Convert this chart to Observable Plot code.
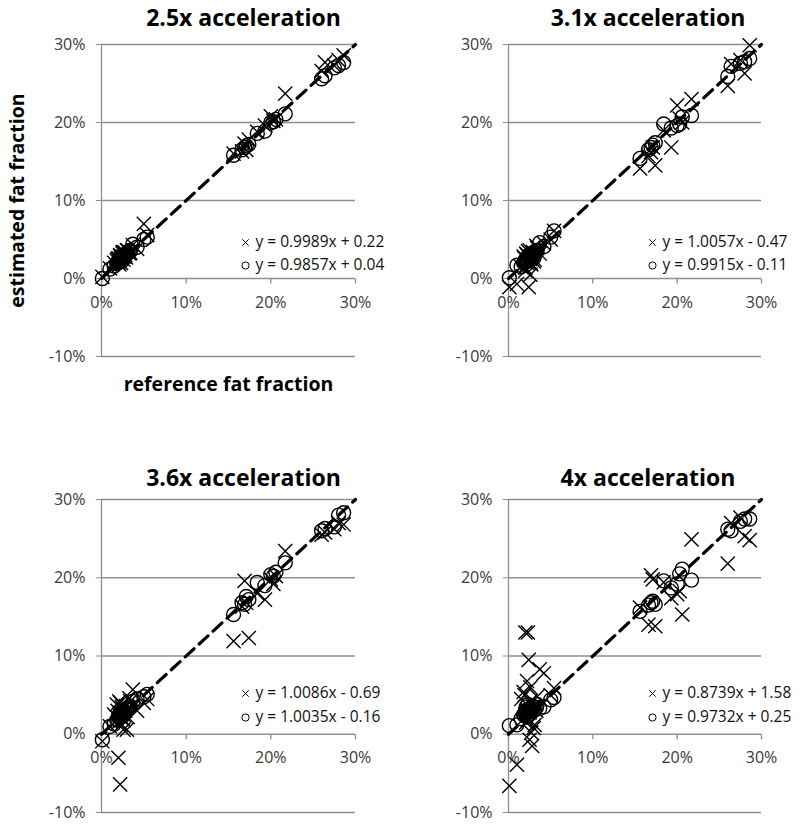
<!DOCTYPE html>
<html><head><meta charset="utf-8">
<script src="https://cdn.jsdelivr.net/npm/d3@7"></script>
<script src="https://cdn.jsdelivr.net/npm/@observablehq/plot@0.6"></script>
<style>
body{margin:0;background:#fff;}
#chart{position:relative;width:800px;height:826px;font-family:"Open Sans",sans-serif;}
#chart svg{position:absolute;overflow:visible;}
</style></head><body><div id="chart"></div>
<script>
// reference fat fraction (%) of each subject, shared by all panels
const refFat = [0.1,1.0,1.5,1.8,2.0,2.1,2.2,2.3,2.4,2.5,2.6,2.8,3.0,3.3,3.7,4.2,5.0,5.4,
  15.6,16.6,16.9,17.1,17.4,18.4,19.3,20.0,20.3,20.6,21.7,26.0,26.4,27.5,28.0,28.6,
  1.9,2.0,2.2,2.3,2.5,2.6,2.7,2.9,3.1,3.4];

const titles = ["2.5x acceleration","3.1x acceleration","3.6x acceleration","4x acceleration"];

// estimated fat fraction, method "×"
const cross25 = [0.2,1.3,2.0,2.3,2.6,1.8,3.0,2.0,2.8,3.4,2.4,3.0,3.6,3.2,4.3,3.8,7.0,5.6,
  16.0,16.3,17.3,16.5,17.8,18.8,19.6,20.8,20.2,20.4,23.7,26.6,27.7,27.3,28.0,28.6,
  2.5,2.1,2.9,2.6,3.2,2.8,3.4,2.7,3.6,3.3];
const cross31 = [-1.1,-0.7,1.5,2.8,1.0,3.2,2.0,3.5,-1.1,2.5,0.5,3.0,2.2,4.2,3.2,4.5,5.0,6.1,
  14.1,15.7,16.2,16.8,14.5,19.0,16.8,22.2,20.5,20.0,23.0,24.7,27.5,28.0,26.3,29.9,
  2.6,1.4,3.0,2.2,3.6,2.0,1.8,3.4,2.4,3.9];
const cross36 = [-0.9,1.0,2.5,3.8,-3.0,4.2,-6.4,1.2,3.5,2.0,0.6,3.0,0.6,4.6,5.7,3.0,4.0,4.5,
  11.9,16.3,19.6,16.8,12.3,18.0,17.2,19.8,19.2,20.2,23.4,25.5,25.8,26.2,27.0,26.8,
  3.0,1.5,4.0,2.6,3.3,1.8,2.4,3.6,2.2,4.2];
const cross40 = [-6.6,-3.9,4.5,5.4,13.0,1.5,6.8,13.0,9.5,-0.7,4.2,-1.5,0.8,3.0,8.3,7.8,5.0,5.9,
  16.2,14.0,20.3,19.8,13.8,19.4,17.4,17.9,18.3,15.3,24.9,21.8,27.0,27.7,25.3,24.8,
  5.0,2.2,3.0,1.8,2.8,6.0,0.2,3.5,1.2,4.8];

// estimated fat fraction, method "○"
const circle25 = [0.0,1.2,1.6,1.9,2.1,2.4,2.2,2.6,2.5,2.3,2.9,3.0,3.3,3.6,4.4,4.0,5.0,5.3,
  15.8,16.5,16.8,17.0,17.2,18.6,18.9,20.0,20.1,20.4,21.1,25.6,26.0,27.0,27.3,27.7,
  2.0,2.3,2.4,2.7,2.6,2.9,2.8,3.1,3.2,3.5];
const circle31 = [0.1,1.7,1.5,2.0,2.3,1.8,2.6,2.2,3.0,2.5,2.8,3.2,2.6,3.6,4.6,4.1,5.3,6.1,
  15.4,16.5,16.8,17.1,17.4,19.8,19.3,19.6,19.8,20.7,20.9,25.9,27.2,27.6,27.8,28.2,
  2.1,2.4,2.2,2.9,2.7,3.1,2.5,3.3,3.0,3.6];
const circle36 = [-0.7,1.0,1.3,1.8,2.2,2.5,2.1,2.6,2.8,2.3,3.0,2.7,3.2,3.5,4.2,4.5,4.8,5.1,
  15.3,16.8,16.6,17.6,17.2,19.4,19.0,20.4,20.2,20.7,21.9,26.0,26.3,26.5,28.0,28.3,
  1.9,2.3,2.6,2.4,2.8,3.0,2.7,3.2,3.4,3.6];
const circle40 = [1.1,1.2,2.0,2.5,3.0,3.5,2.2,3.8,2.8,3.3,2.6,3.2,3.5,3.4,3.3,3.5,4.4,4.7,
  15.7,16.5,16.8,17.0,16.6,19.6,18.7,19.2,20.5,21.1,19.7,26.2,26.0,27.2,27.5,27.5,
  2.4,2.7,3.0,2.5,3.2,2.9,3.4,3.6,3.1,3.8];

const crossFits = ["y = 0.9989x + 0.22","y = 1.0057x - 0.47","y = 1.0086x - 0.69","y = 0.8739x + 1.58"];
const circleFits = ["y = 0.9857x + 0.04","y = 0.9915x - 0.11","y = 1.0035x - 0.16","y = 0.9732x + 0.25"];

const yTicks = [-10,0,10,20,30];
const xTicks = [0,10,20,30];
const identity = [0,30];

const crossSeries = [cross25, cross31, cross36, cross40];
const circleSeries = [circle25, circle31, circle36, circle40];

const GRID = "#8f8f8f";
const tickDown = {draw(ctx){ ctx.moveTo(0,0); ctx.lineTo(0,5); }};

const layout = [
  {left:0,   top:0,   ml:101, mr:45, mt:44, mb:57, titleDy:-26, titleDx:15, legDy:[198,221], labels:true},
  {left:400, top:0,   ml:108, mr:39, mt:44, mb:57, titleDy:-26, titleDx:13, legDy:[198,221], labels:false},
  {left:0,   top:413, ml:101, mr:45, mt:86, mb:14, titleDy:-21, titleDx:15, legDy:[194,218], labels:false},
  {left:400, top:413, ml:108, mr:39, mt:86, mb:14, titleDy:-21, titleDx:13, legDy:[194,218], labels:false}
];

const root = document.getElementById("chart");

layout.forEach((L, k) => {
  const crosses = refFat.map((r, i) => ({ref: r, est: crossSeries[k][i]}));
  const circles = refFat.map((r, i) => ({ref: r, est: circleSeries[k][i]}));
  const marks = [
    Plot.ruleY(yTicks, {stroke: GRID, strokeWidth: 1.3}),
    Plot.ruleX([0], {y1: -10, y2: 30, stroke: GRID, strokeWidth: 1.3}),
    Plot.axisY({ticks: yTicks, tickFormat: d => d + "%", tickSize: 5, tickPadding: 11, label: null,
      stroke: GRID, fill: "#3a3a3a", fontSize: 16}),
    Plot.dot(xTicks, {x: d => d, y: d => 0, symbol: tickDown, stroke: GRID, strokeWidth: 1.3}),
    Plot.text(xTicks, {x: d => d, y: d => 0, text: d => d + "%", dy: 24, fill: "#3a3a3a", fontSize: 16}),
    Plot.line(identity, {x: d => d, y: d => d, stroke: "#000", strokeWidth: 3.2, strokeDasharray: "12,7"}),
    Plot.dot(crosses, {x: "ref", y: "est", symbol: "times", r: 6.5, stroke: "#000", strokeWidth: 1.4}),
    Plot.dot(circles, {x: "ref", y: "est", symbol: "circle", r: 7, stroke: "#000", fill: "none", strokeWidth: 1.4}),
    Plot.text([titles[k]], {frameAnchor: "top", dx: L.titleDx, dy: L.titleDy, lineAnchor: "middle",
      fontSize: 23, fontWeight: "bold", fill: "#000"}),
    Plot.dot([0], {frameAnchor: "top-left", dx: 144, dy: L.legDy[0], symbol: "times", r: 3, stroke: "#000", strokeWidth: 1}),
    Plot.dot([0], {frameAnchor: "top-left", dx: 144, dy: L.legDy[1], symbol: "circle", r: 3.6, stroke: "#000", fill: "none", strokeWidth: 1}),
    Plot.text([crossFits[k]], {frameAnchor: "top-left", dx: 154, dy: L.legDy[0], textAnchor: "start", lineAnchor: "middle", fontSize: 15.5, fill: "#111"}),
    Plot.text([circleFits[k]], {frameAnchor: "top-left", dx: 154, dy: L.legDy[1], textAnchor: "start", lineAnchor: "middle", fontSize: 15.5, fill: "#111"})
  ];
  if (L.labels) {
    marks.push(Plot.text(["estimated fat fraction"], {frameAnchor: "left", dx: -84, rotate: -90,
      textAnchor: "middle", lineAnchor: "middle", fontSize: 19.5, fontWeight: "bold", fill: "#000"}));
    marks.push(Plot.text(["reference fat fraction"], {frameAnchor: "bottom", dy: 28, lineAnchor: "middle",
      textAnchor: "middle", fontSize: 19.5, fontWeight: "bold", fill: "#000"}));
  }
  const svg = Plot.plot({
    width: 400, height: 413,
    marginLeft: L.ml, marginRight: L.mr, marginTop: L.mt, marginBottom: L.mb,
    style: {fontFamily: '"Open Sans", sans-serif', background: "transparent", overflow: "visible"},
    x: {domain: [0, 30], axis: null},
    y: {domain: [-10, 30], label: null},
    marks
  });
  svg.style.left = L.left + "px";
  svg.style.top = L.top + "px";
  root.appendChild(svg);
});
</script></body></html>
